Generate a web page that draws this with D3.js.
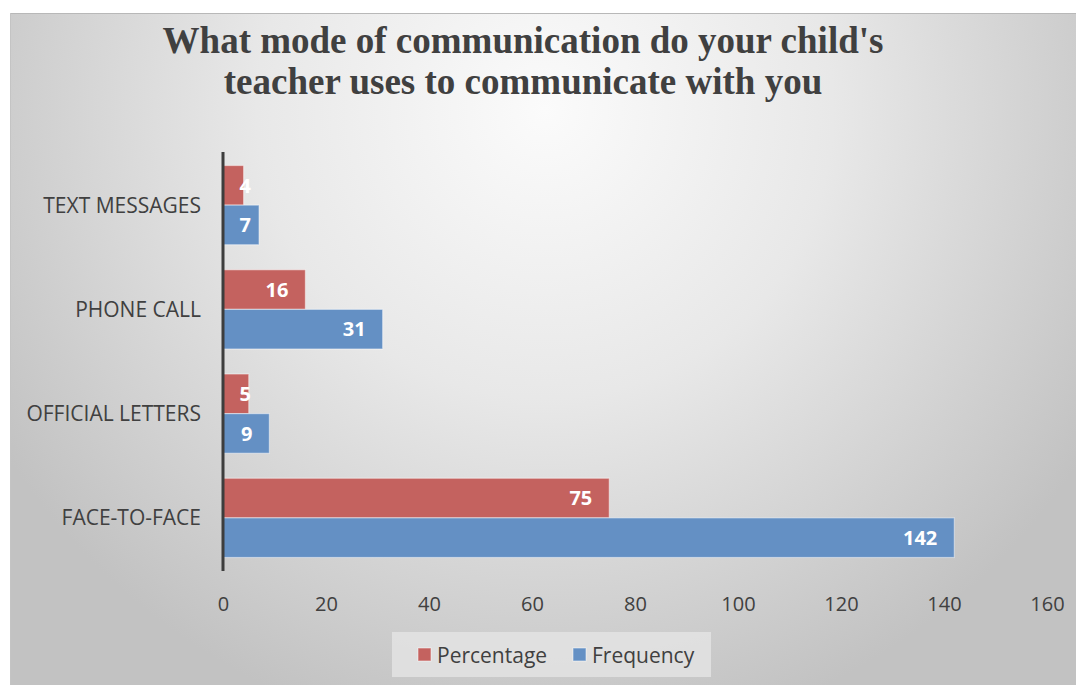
<!DOCTYPE html>
<html><head><meta charset="utf-8">
<script src="https://cdn.jsdelivr.net/npm/d3@7"></script>
<style>html,body{margin:0;padding:0;background:#fff;}svg{display:block;}</style>
</head><body>
<svg id="chart" width="1076" height="685"></svg>
<script>
const categories = ["TEXT MESSAGES", "PHONE CALL", "OFFICIAL LETTERS", "FACE-TO-FACE"];
const seriesNames = ["Percentage", "Frequency"];
const percentage = [4, 16, 5, 75];
const frequency = [7, 31, 9, 142];
const xTicks = [0, 20, 40, 60, 80, 100, 120, 140, 160];
const titleLines = ["What mode of communication do your child's", "teacher uses to communicate with you"];
const colors = ["#c4625f", "#6490c4"];

const svg = d3.select("#chart");
const defs = svg.append("defs");
const grad = defs.append("radialGradient").attr("id", "bg")
  .attr("gradientUnits", "userSpaceOnUse").attr("cx", 545).attr("cy", 110).attr("r", 640);
grad.append("stop").attr("offset", "0%").attr("stop-color", "#fbfbfb");
grad.append("stop").attr("offset", "45%").attr("stop-color", "#e8e8e8");
grad.append("stop").attr("offset", "100%").attr("stop-color", "#c2c2c2");

svg.append("rect").attr("x", 10).attr("y", 13).attr("width", 1066).attr("height", 672)
  .attr("fill", "url(#bg)");
svg.append("line").attr("x1", 10).attr("x2", 1076).attr("y1", 13.5).attr("y2", 13.5)
  .attr("stroke", "#b8b8b8").attr("stroke-width", 1);
svg.append("line").attr("x1", 10.5).attr("x2", 10.5).attr("y1", 13).attr("y2", 685)
  .attr("stroke", "#c4c4c4").attr("stroke-width", 1);

// title
const title = svg.append("text").attr("text-anchor", "middle")
  .attr("font-family", "'Liberation Serif', 'Times New Roman', serif")
  .attr("font-weight", "bold").attr("font-size", 37).attr("fill", "#404040");
titleLines.forEach((t, i) => title.append("tspan").attr("x", 523).attr("y", 53 + i * 41).text(t));

const x = d3.scaleLinear().domain([0, 160]).range([223, 1047]);
const y = d3.scaleBand().domain(categories).range([153, 570]).paddingInner(0.24).paddingOuter(0.12);
const ySub = d3.scaleBand().domain(seriesNames).range([0, y.bandwidth()]);

const data = [];
categories.forEach((c, i) => {
  data.push({cat: c, s: "Percentage", v: percentage[i], k: 0});
  data.push({cat: c, s: "Frequency", v: frequency[i], k: 1});
});

// bars
svg.append("g").selectAll("rect").data(data).join("rect")
  .attr("x", x(0))
  .attr("y", d => y(d.cat) + ySub(d.s))
  .attr("width", d => x(d.v) - x(0))
  .attr("height", ySub.bandwidth())
  .attr("fill", d => colors[d.k])
  .attr("stroke", "rgba(255,255,255,0.45)").attr("stroke-width", 1.2);

// data labels
svg.append("g").selectAll("text").data(data).join("text")
  .attr("x", d => Math.max(x(d.v) - 17, x(0) + 28))
  .attr("y", d => y(d.cat) + ySub(d.s) + ySub.bandwidth() / 2)
  .attr("dy", "0.36em").attr("text-anchor", "end")
  .attr("font-family", "'Open Sans', sans-serif").attr("font-weight", "bold")
  .attr("font-size", 20).attr("fill", "#fff")
  .text(d => d.v);

// y axis line
svg.append("line").attr("x1", x(0)).attr("x2", x(0)).attr("y1", 152).attr("y2", 571)
  .attr("stroke", "#3d3d3d").attr("stroke-width", 3);

// category labels
svg.append("g").selectAll("text").data(categories).join("text")
  .attr("x", 201).attr("y", d => y(d) + y.bandwidth() / 2)
  .attr("dy", "0.36em").attr("text-anchor", "end")
  .attr("font-family", "'Open Sans', sans-serif").attr("font-size", 21).attr("fill", "#404040")
  .text(d => d);

// x axis tick labels
const xAxis = d3.axisBottom(x).tickValues(xTicks).tickSize(0).tickPadding(0);
const gx = svg.append("g").attr("transform", "translate(0,597)").call(xAxis);
gx.select(".domain").remove();
gx.selectAll("text").attr("font-family", "'Open Sans', sans-serif").attr("font-size", 20)
  .attr("fill", "#404040").attr("dy", "0.71em").attr("y", 0);

// legend
const lg = svg.append("g");
lg.append("rect").attr("x", 392).attr("y", 632).attr("width", 319).attr("height", 45)
  .attr("fill", "#e3e3e3").attr("opacity", 0.85);
const legendX = [418, 573];
seriesNames.forEach((s, i) => {
  lg.append("rect").attr("x", legendX[i]).attr("y", 648).attr("width", 13).attr("height", 13)
    .attr("fill", colors[i]).attr("stroke", "rgba(255,255,255,0.5)");
  lg.append("text").attr("x", legendX[i] + 19).attr("y", 655).attr("dy", "0.36em")
    .attr("font-family", "'Open Sans', sans-serif").attr("font-size", 21).attr("fill", "#404040")
    .text(s);
});
</script>
</body></html>
